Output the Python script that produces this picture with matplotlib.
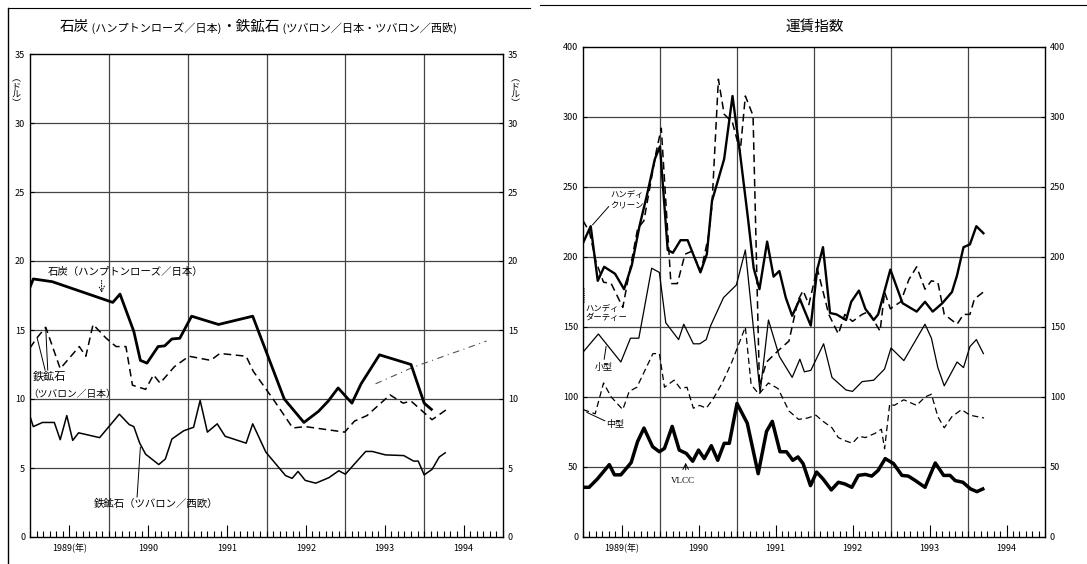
import numpy as np
import matplotlib
matplotlib.use("Agg")
import matplotlib.pyplot as plt
from matplotlib.lines import Line2D
from matplotlib.text import Annotation

plt.rcParams['font.family'] = ['Noto Sans CJK JP', 'DejaVu Sans']

# 月は1989年1月=0
year_labels = ['1989(年)', '1990', '1991', '1992', '1993', '1994']

# 左: 石炭・鉄鉱石 (ドル)
coal_m = [0, 0.5, 3.4, 12.6, 13.7, 15.8, 16.8, 17.8, 19.5, 20.5, 21.6, 22.8, 24.6, 28.7, 33.9,
          38.7, 41.7, 43.9, 45.4, 46.9, 49.0, 50.4, 53.2, 58.0, 60.0, 61.1]
coal_v = [18.1, 18.7, 18.5, 17.0, 17.6, 14.9, 12.8, 12.6, 13.8, 13.85, 14.35, 14.4, 16.0, 15.4, 16.0,
          10.0, 8.3, 9.1, 9.85, 10.8, 9.7, 11.1, 13.2, 12.5, 9.7, 9.25]

ore_jp_m = [0, 1, 2.4, 4.6, 7.5, 8.5, 9.6, 11.6, 13.1, 14.6, 15.6, 17.6, 18.8, 19.8, 22.0, 24.2,
            27.5, 28.9, 32.9, 34.0, 37.0, 40.0, 41.9, 47.9, 49.4, 51.3, 54.8, 56.8, 58.0, 61.2, 63.3]
ore_jp_v = [13.7, 14.4, 15.2, 12.2, 13.8, 13.1, 15.4, 14.4, 13.8, 13.8, 11.0, 10.7, 11.75, 11.15, 12.35, 13.1,
            12.8, 13.3, 13.1, 12.0, 10.0, 7.9, 8.0, 7.6, 8.4, 8.8, 10.3, 9.7, 9.85, 8.5, 9.2]

ore_eu_m = [0, 0.5, 1.9, 3.7, 4.6, 5.6, 6.5, 7.4, 10.6, 13.6, 15.1, 15.8, 16.7, 17.6, 19.6, 20.6, 21.6,
            23.4, 24.9, 25.9, 27.0, 28.5, 29.7, 32.9, 33.9, 35.9, 38.9, 39.9, 40.8, 41.9, 43.5, 45.5,
            47.0, 48.0, 51.1, 52.1, 54.1, 56.9, 58.4, 59.1, 60.0, 61.2, 62.3, 63.2]
ore_eu_v = [8.75, 8.0, 8.3, 8.3, 7.05, 8.8, 7.0, 7.55, 7.2, 8.9, 8.15, 8.0, 6.8, 6.0, 5.25, 5.65, 7.1,
            7.7, 7.95, 9.9, 7.6, 8.2, 7.3, 6.8, 8.2, 6.15, 4.45, 4.25, 4.75, 4.1, 3.9, 4.3,
            4.8, 4.55, 6.2, 6.2, 5.95, 5.9, 5.5, 5.5, 4.5, 4.9, 5.8, 6.1]

extra_m = [52.6, 58.3, 63.0, 69.5]
extra_v = [11.1, 12.3, 13.1, 14.2]

# 右: 運賃指数
clean_m = [0, 1.2, 2.3, 3.3, 5.0, 6.4, 7.6, 8.8, 10.0, 11.2, 12.0, 13.2, 14.0, 15.2, 16.3, 18.3, 19.3,
           20.1, 22.0, 23.3, 24.5, 25.7, 26.6, 27.5, 28.7, 29.7, 30.6, 31.6, 32.6, 33.8, 34.5, 35.5,
           36.5, 37.4, 38.5, 39.5, 41.0, 41.8, 43.0, 44.0, 45.3, 46.0, 47.9, 49.8, 52.0, 53.3, 54.5,
           56.0, 57.5, 58.3, 59.3, 60.3, 61.3, 62.4]
clean_v = [210, 222, 183, 193, 188, 177, 194, 222, 245, 270, 279, 205, 203, 212, 212, 189, 202,
           240, 270, 330, 273, 228, 192, 177, 211, 186, 190, 171, 158, 170, 162, 151,
           191, 207, 160, 159, 155, 168, 176, 163, 155, 159, 191, 167, 161, 168, 161,
           167, 175, 187, 207, 209, 222, 217]

dirty_m = [0, 1, 2, 3.2, 4.4, 6.2, 7.4, 8.5, 9.5, 11.4, 12.2, 13.7, 14.7, 15.9, 16.9, 18.4, 19.6,
           20.1, 21.1, 22.0, 23.3, 24.5, 25.3, 26.5, 27.5, 28.6, 30.4, 32.1, 33.5, 34.3, 35.2,
           36.5, 38.3, 39.8, 40.8, 42.0, 43.5, 44.5, 46.3, 47.0, 47.9, 49.5, 50.8, 52.0, 53.3,
           54.3, 55.3, 56.3, 58.3, 59.3, 60.3, 61.0, 62.4]
dirty_v = [226, 218, 197, 182, 181, 164, 193, 220, 226, 275, 292, 181, 181, 202, 204, 190, 216,
           237, 354, 304, 296, 275, 330, 302, 108, 125, 133, 140, 169, 176, 166,
           192, 159, 145, 159, 154, 159, 161, 147, 175, 163, 168, 184, 193, 177,
           183, 182, 159, 152, 159, 159, 170, 175]

small_m = [0, 2.4, 5.9, 7.4, 8.7, 10.7, 11.9, 12.9, 14.9, 15.7, 17.2, 18.2, 19.2, 19.9, 21.9, 23.9,
           25.3, 27.6, 28.9, 30.6, 32.6, 33.8, 34.5, 35.5, 37.5, 38.8, 41.0, 42.0, 43.5, 45.3, 47.0,
           48.0, 50.0, 53.3, 54.3, 55.3, 56.3, 58.3, 59.3, 60.3, 61.3, 62.4]
small_v = [132, 145, 125, 142, 142, 192, 189, 153, 141, 152, 138, 138, 141, 151, 171, 180,
           205, 103, 155, 129, 114, 127, 118, 119, 138, 114, 105, 104, 111, 112, 120,
           135, 126, 152, 142, 121, 108, 125, 121, 136, 141, 131]

mid_m = [0, 1.9, 3.2, 4.4, 6.2, 7.2, 8.4, 10.9, 11.9, 12.7, 14.2, 15.2, 16.2, 17.2, 18.2, 19.2, 20.2,
         21.7, 23.2, 25.3, 26.2, 27.4, 28.9, 30.4, 32.1, 33.6, 35.0, 36.3, 37.3, 38.8, 39.8, 41.0,
         42.0, 43.0, 44.0, 45.5, 46.5, 47.0, 47.8, 48.5, 50.0, 52.0, 53.3, 54.3, 55.3, 56.3, 57.5,
         59.0, 60.3, 62.5]
mid_v = [91, 88, 110, 100, 91, 104, 107, 131, 131, 107, 112, 106, 107, 92, 94, 92, 98,
         110, 125, 150, 109, 102, 110, 106, 90, 84, 85, 87, 83, 78, 71, 68.5,
         67, 72, 71, 74, 77, 63, 95, 94, 98, 94, 100, 102, 86, 78, 86,
         91, 87, 85]

vlcc_m = [0, 0.95, 2.25, 4.1, 4.9, 5.9, 7.5, 8.5, 9.5, 10.85, 11.9, 12.7, 13.9, 15.0, 16.1, 17.1,
          18.0, 18.9, 20.0, 21.0, 22.0, 22.8, 24.0, 25.6, 27.3, 28.6, 29.5, 30.7, 31.7, 32.7, 33.5,
          34.3, 35.45, 36.4, 37.4, 38.7, 39.8, 40.8, 41.9, 42.9, 44.0, 45.0, 46.0, 47.1, 48.4, 49.7,
          50.7, 51.8, 53.3, 54.9, 56.2, 57.2, 58.0, 59.2, 60.4, 61.4, 62.3]
vlcc_v = [35.5, 35.5, 41.5, 51.7, 44.4, 44.4, 53.1, 68.1, 77.8, 64.5, 60.9, 63.3, 79, 62.1, 59.7, 54.1,
          62.1, 56, 65.2, 54.8, 66.9, 66.9, 95.4, 81.3, 45.2, 75.4, 82.6, 60.9, 60.9, 54.8, 57.2,
          52.4, 36.7, 46.4, 41.5, 33.6, 39.1, 37.9, 35.5, 44, 44.7, 43.5, 47.6, 56, 52.4, 44,
          43.5, 40.3, 35.5, 52.9, 44, 44, 40.3, 39.1, 34.3, 32.4, 34.3]

left_ticks = [0, 5, 10, 15, 20, 25, 30, 35]
right_ticks = [0, 50, 100, 150, 200, 250, 300, 400]

fig = plt.figure(figsize=(10.87, 5.64), dpi=100)
ax1 = fig.add_axes([30 / 1087, 27 / 564, 473 / 1087, 483 / 564])
ax2 = fig.add_axes([583 / 1087, 27 / 564, 462 / 1087, 490 / 564])

grid_c = '#444444'


def setup_time_axis(ax):
    ax.set_xlim(0, 72)
    ax.set_xticks([6 + 12 * i for i in range(6)])
    ax.set_xticklabels(year_labels, fontsize=6.5)
    ax.set_xticks(np.arange(0, 73, 1), minor=True)
    ax.tick_params(axis='x', which='major', direction='in', length=9, width=0.8, pad=5, top=False)
    ax.tick_params(axis='x', which='minor', direction='in', length=4, width=0.8, top=False)
    ax.tick_params(axis='y', direction='in', length=3, labelsize=6.5, left=True, right=True,
                   labelleft=True, labelright=True)
    for m in range(12, 72, 12):
        ax.axvline(m, color=grid_c, lw=0.9, zorder=1)
    for s in ax.spines.values():
        s.set_linewidth(1.0)


# ---- 左パネル ----
setup_time_axis(ax1)
ax1.set_ylim(0, 35)
ax1.set_yticks(left_ticks)
for t in left_ticks[1:-1]:
    ax1.axhline(t, color=grid_c, lw=0.9, zorder=1)

ax1.plot(coal_m, coal_v, color='black', lw=2.0, zorder=4)
ax1.plot(ore_jp_m, ore_jp_v, color='black', lw=1.1, dashes=(5, 3), zorder=3)
ax1.plot(ore_eu_m, ore_eu_v, color='black', lw=1.1, zorder=3)
ax1.plot(extra_m, extra_v, color='#555555', lw=0.8, dashes=(6, 4, 1, 4), zorder=3)

ax1.text(2.7, 19.2, '石炭（ハンプトンローズ／日本）', fontsize=7.5, va='center')
ax1.annotate('', xy=(10.9, 17.5), xytext=(10.9, 18.8),
             arrowprops=dict(arrowstyle='->', lw=0.7, ls=':', color='black'))
ax1.text(0.4, 11.6, '鉄鉱石', fontsize=8, va='center')
ax1.text(-0.2, 10.35, '（ツバロン／日本）', fontsize=7, va='center')
ax1.plot([2.3, 1.1], [12.1, 14.4], color='black', lw=0.7)
ax1.plot([2.7, 2.4], [12.1, 15.1], color='black', lw=0.7)
ax1.text(9.7, 2.4, '鉄鉱石（ツバロン／西欧）', fontsize=7.5, va='center')
ax1.plot([16.3, 16.8], [2.9, 6.5], color='black', lw=0.7)

for xpos in (-0.03, 1.025):
    ax1.text(xpos, 0.958, '︵\nド\nル\n︶', transform=ax1.transAxes, fontsize=6.5,
             ha='center', va='top', linespacing=0.9)

# 左タイトル: 大小の文字を直前のテキストの右端に続けて描く
pieces = [(' (ハンプトンローズ／日本)', 8), ('・鉄鉱石', 10.5), (' (ツバロン／日本・ツバロン／西欧)', 8)]
prev = fig.text(60 / 1087, 1 - 31 / 564, '石炭', fontsize=10.5, va='baseline')
for txt, fs in pieces:
    prev = fig.add_artist(Annotation(txt, xy=(1, 0), xycoords=prev, xytext=(0, 0),
                                     textcoords='offset points', fontsize=fs,
                                     va='bottom', ha='left'))

# ---- 右パネル ----
def fwd(v):
    v = np.asarray(v, dtype=float)
    return np.where(v <= 300, v, 300 + (v - 300) / 2)


def inv(d):
    d = np.asarray(d, dtype=float)
    return np.where(d <= 300, d, 300 + (d - 300) * 2)


ax2.set_yscale('function', functions=(fwd, inv))
setup_time_axis(ax2)
ax2.set_ylim(0, 400)
ax2.set_yticks(right_ticks)
ax2.set_yticklabels([str(t) for t in right_ticks])
ax2.yaxis.set_minor_locator(matplotlib.ticker.NullLocator())
for t in right_ticks[1:-1]:
    ax2.axhline(t, color=grid_c, lw=0.9, zorder=1)

ax2.plot(clean_m, clean_v, color='black', lw=1.7, zorder=4)
ax2.plot(dirty_m, dirty_v, color='black', lw=1.1, dashes=(5, 3), zorder=3)
ax2.plot(small_m, small_v, color='black', lw=0.9, zorder=3)
ax2.plot(mid_m, mid_v, color='black', lw=0.9, dashes=(5, 3), zorder=3)
ax2.plot(vlcc_m, vlcc_v, color='black', lw=2.5, zorder=4)

ax2.text(4.2, 241, 'ハンディ\nクリーン', fontsize=6, va='center', linespacing=1.1)
ax2.plot([4.0, 1.5], [236, 223], color='black', lw=0.7)
ax2.text(0.4, 160, 'ハンディ\nダーティー', fontsize=6, va='center', linespacing=1.1)
ax2.plot([0.2, 0.2], [168, 178], color='black', lw=0.6, ls=':')
ax2.text(1.9, 121, '小型', fontsize=6.5, va='center')
ax2.plot([3.3, 3.6], [127, 136], color='black', lw=0.7)
ax2.text(3.6, 80, '中型', fontsize=6.5, va='center')
ax2.plot([3.4, 0.6], [83, 89], color='black', lw=0.7)
ax2.text(13.7, 40, 'VLCC', fontsize=6.5, va='center', family='Liberation Serif')
ax2.annotate('', xy=(16, 55), xytext=(16, 46),
             arrowprops=dict(arrowstyle='->', lw=0.7, color='black'))

fig.text(815 / 1087, 1 - 31 / 564, '運賃指数', fontsize=10.5, ha='center', va='baseline')

# スキャン枠線
fig.add_artist(Line2D([8 / 1087, 8 / 1087], [0, 1 - 8 / 564], color='black', lw=1.0))
fig.add_artist(Line2D([8 / 1087, 530 / 1087], [1 - 8 / 564, 1 - 8 / 564], color='black', lw=0.8))
fig.add_artist(Line2D([540 / 1087, 1], [1 - 5 / 564, 1 - 5 / 564], color='black', lw=0.8))

fig.savefig('out.png', dpi=100)
